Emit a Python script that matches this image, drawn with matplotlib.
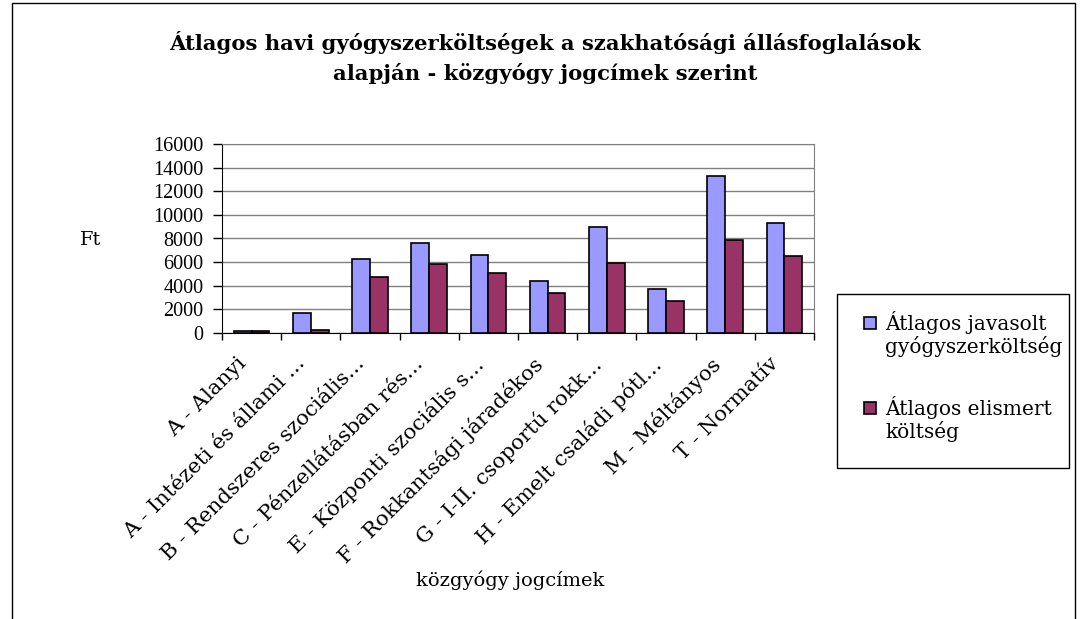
import matplotlib
matplotlib.use("Agg")
import matplotlib.pyplot as plt
import numpy as np
from matplotlib.patches import Rectangle

categories = ["A - Alanyi", "A - Intézeti és állami ...", "B - Rendszeres szociális...",
              "C - Pénzellátásban rés...", "E - Központi szociális s...",
              "F - Rokkantsági járadékos", "G - I-II. csoportú rokk...",
              "H - Emelt családi pótl...", "M - Méltányos", "T - Normatív"]
javasolt = [150, 1700, 6300, 7650, 6620, 4400, 9000, 3750, 13300, 9350]
elismert = [130, 280, 4780, 5800, 5120, 3380, 5950, 2700, 7850, 6480]
series_names = ["Átlagos javasolt\ngyógyszerköltség", "Átlagos elismert\nköltség"]
series_colors = ['#9999FF', '#993366']
yticks = [0, 2000, 4000, 6000, 8000, 10000, 12000, 14000, 16000]
title_lines = ["Átlagos havi gyógyszerköltségek a szakhatósági állásfoglalások",
               "alapján - közgyógy jogcímek szerint"]

plt.rcParams['font.family'] = ['Liberation Serif', 'DejaVu Serif']
WIDE = ['DejaVu Serif']

W, H = 1081, 619
fig = plt.figure(figsize=(W/100, H/100), dpi=100)
TF = fig.transFigure

def fx(px):
    return px / W

def fy(py):
    return 1 - py / H

# outer border of chart
fig.patches.append(Rectangle((fx(12), -0.01), fx(1075) - fx(12), fy(3) + 0.01,
                             transform=TF, fill=False, edgecolor='black', linewidth=1.0))

ax = fig.add_axes([fx(222), fy(333), fx(814) - fx(222), fy(144) - fy(333)])
x = np.arange(len(categories))
bw = 0.3
ax.bar(x - bw/2, javasolt, bw, color=series_colors[0], edgecolor='black', linewidth=1.2,
       zorder=3)
ax.bar(x + bw/2, elismert, bw, color=series_colors[1], edgecolor='black', linewidth=1.2,
       zorder=3)

ax.set_xlim(-0.5, len(categories) - 0.5)
ax.set_ylim(0, 16000)
ax.set_yticks(yticks)
ax.set_yticklabels([str(v) for v in yticks], fontsize=14.5)
ax.yaxis.grid(True, color='#808080', linewidth=1.0, zorder=0)
ax.set_axisbelow(True)

ax.set_xticks(np.arange(len(categories) + 1) - 0.5)
ax.set_xticklabels([])
ax.tick_params(axis='x', length=5, color='black', width=1)
ax.tick_params(axis='y', length=6.5, color='black', width=1, pad=7)
for i, c in enumerate(categories):
    ax.annotate(c, xy=(i, 0), xycoords=('data', 'axes fraction'),
                xytext=(-11, -15), textcoords='offset points',
                rotation=45, ha='right', va='top', fontsize=15.3,
                rotation_mode='anchor', family=WIDE)

ax.spines['left'].set_color('black')
ax.spines['bottom'].set_color('black')
ax.spines['top'].set_color('#808080')
ax.spines['right'].set_color('#808080')

fig.text(fx(80), fy(240), "Ft", fontsize=14, ha='left', va='center', family=WIDE)
fig.text(fx(510), fy(580), "közgyógy jogcímek", fontsize=14, ha='center', va='center',
         family=WIDE)
fig.text(fx(545), fy(50), title_lines[0], fontsize=15.2, fontweight='bold',
         ha='center', va='baseline', family=WIDE)
fig.text(fx(545), fy(80), title_lines[1], fontsize=15.2, fontweight='bold',
         ha='center', va='baseline', family=WIDE)

# legend (box, colour keys, labels)
fig.patches.append(Rectangle((fx(837), fy(468)), fx(1069) - fx(837), fy(294) - fy(468),
                             transform=TF, fill=True, facecolor='white',
                             edgecolor='black', linewidth=1.0))
for k, (name, col) in enumerate(zip(series_names, series_colors)):
    base = 330 + k * 85
    fig.patches.append(Rectangle((fx(864), fy(base - 1)), fx(876) - fx(864),
                                 fy(base - 13) - fy(base - 1), transform=TF,
                                 facecolor=col, edgecolor='black', linewidth=1.2))
    for j, line in enumerate(name.split("\n")):
        fig.text(fx(885), fy(base + j * 23), line, fontsize=14.5, ha='left',
                 va='baseline', family=WIDE)

fig.savefig("out.png", dpi=100)
